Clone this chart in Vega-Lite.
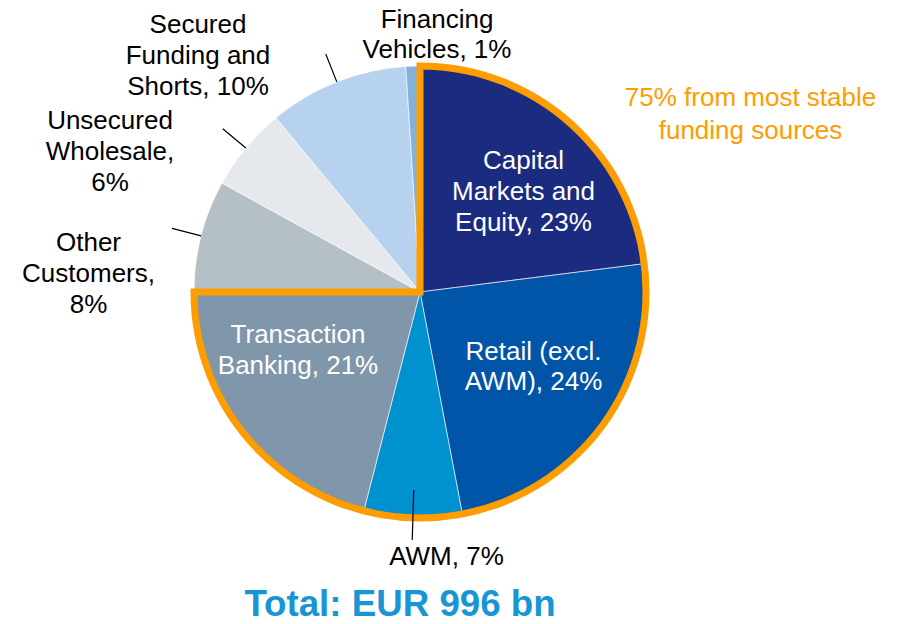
{
  "$schema": "https://vega.github.io/schema/vega-lite/v6.json",
  "width": 840,
  "height": 584,
  "autosize": {"type": "none"},
  "padding": {"left": 0, "top": 0, "right": 69, "bottom": 40},
  "background": "white",
  "config": {"view": {"stroke": null}, "font": "Liberation Sans"},
  "title": {
    "text": "Total: EUR 996 bn",
    "orient": "bottom",
    "anchor": "middle",
    "frame": "group",
    "dx": -20,
    "offset": 3,
    "fontSize": 36.7,
    "fontWeight": "bold",
    "font": "Liberation Sans",
    "color": "#1895d3"
  },
  "data": {
    "values": [
      {"cat": "Capital Markets and Equity", "label": "Capital\nMarkets and\nEquity, 23%", "share": 23, "idx": 1, "grp": "stable"},
      {"cat": "Retail (excl. AWM)", "label": "Retail (excl.\nAWM), 24%", "share": 24, "idx": 2, "grp": "stable"},
      {"cat": "AWM", "label": "AWM, 7%", "share": 7, "idx": 3, "grp": "stable"},
      {"cat": "Transaction Banking", "label": "Transaction\nBanking, 21%", "share": 21, "idx": 4, "grp": "stable"},
      {"cat": "Other Customers", "label": "Other\nCustomers,\n8%", "share": 8, "idx": 5, "grp": "other"},
      {"cat": "Unsecured Wholesale", "label": "Unsecured\nWholesale,\n6%", "share": 6, "idx": 6, "grp": "other"},
      {"cat": "Secured Funding and Shorts", "label": "Secured\nFunding and\nShorts, 10%", "share": 10, "idx": 7, "grp": "other"},
      {"cat": "Financing Vehicles", "label": "Financing\nVehicles, 1%", "share": 1, "idx": 8, "grp": "other"}
    ]
  },
  "transform": [
    {"stack": "share", "groupby": [], "sort": [{"field": "idx", "order": "ascending"}], "as": ["s0", "s1"]}
  ],
  "layer": [
    {
      "mark": {"type": "arc", "outerRadius": 226, "stroke": "#ffffff", "strokeWidth": 0.6},
      "encoding": {
        "theta": {"field": "s0", "type": "quantitative", "scale": {"domain": [0, 100]}},
        "theta2": {"field": "s1"},
        "color": {
          "field": "cat",
          "type": "nominal",
          "legend": null,
          "scale": {
            "domain": ["Capital Markets and Equity", "Retail (excl. AWM)", "AWM", "Transaction Banking", "Other Customers", "Unsecured Wholesale", "Secured Funding and Shorts", "Financing Vehicles"],
            "range": ["#1b2b80", "#0055a8", "#0091cf", "#8096aa", "#b4bfc6", "#e5e8ec", "#b6d2ee", "#82b1dc"]
          }
        }
      }
    },
    {
      "transform": [
        {"aggregate": [{"op": "min", "field": "s0", "as": "g0"}, {"op": "max", "field": "s1", "as": "g1"}], "groupby": ["grp"]},
        {"filter": "datum.grp === 'stable'"}
      ],
      "mark": {"type": "arc", "outerRadius": 226, "fill": "#ffffff", "fillOpacity": 0, "stroke": "#ff9c00", "strokeWidth": 7, "strokeJoin": "miter"},
      "encoding": {
        "theta": {"field": "g0", "type": "quantitative", "scale": {"domain": [0, 100]}},
        "theta2": {"field": "g1"}
      }
    },
    {
      "transform": [{"filter": "datum.cat === 'AWM'"}],
      "mark": {"type": "arc", "innerRadius": 198, "outerRadius": 248, "padAngle": 3.14, "fill": "#ffffff", "fillOpacity": 0, "stroke": "#000000", "strokeWidth": 1.2},
      "encoding": {
        "theta": {"field": "s0", "type": "quantitative", "scale": {"domain": [0, 100]}},
        "theta2": {"field": "s1"}
      }
    },
    {
      "transform": [{"filter": "datum.cat === 'Other Customers' || datum.cat === 'Unsecured Wholesale' || datum.cat === 'Secured Funding and Shorts'"}],
      "mark": {"type": "arc", "innerRadius": 226, "outerRadius": 256, "padAngle": 3.14, "fill": "#ffffff", "fillOpacity": 0, "stroke": "#000000", "strokeWidth": 1.2},
      "encoding": {
        "theta": {"field": "s0", "type": "quantitative", "scale": {"domain": [0, 100]}},
        "theta2": {"field": "s1"}
      }
    },
    {
      "transform": [{"filter": "datum.cat === 'Capital Markets and Equity'"}],
      "mark": {"type": "text", "radius": 131.5, "dx": 103.5, "dy": 0, "fontSize": 26, "lineHeight": 31, "lineBreak": "\n", "align": "center", "baseline": "middle", "color": "#ffffff"},
      "encoding": {
        "theta": {"field": "s0", "type": "quantitative", "scale": {"domain": [0, 100]}},
        "text": {"field": "label", "type": "nominal"}
      }
    },
    {
      "transform": [{"filter": "datum.cat === 'Retail (excl. AWM)'"}],
      "mark": {"type": "text", "radius": 115, "dx": -0.6, "dy": 74.4, "fontSize": 26, "lineHeight": 30, "lineBreak": "\n", "align": "center", "baseline": "middle", "color": "#ffffff"},
      "encoding": {
        "theta": {"field": "s0", "type": "quantitative", "scale": {"domain": [0, 100]}},
        "text": {"field": "label", "type": "nominal"}
      }
    },
    {
      "transform": [{"filter": "datum.cat === 'Transaction Banking'"}],
      "mark": {"type": "text", "radius": 45, "dx": -110.8, "dy": -0.6, "fontSize": 26, "lineHeight": 31, "lineBreak": "\n", "align": "center", "baseline": "middle", "color": "#ffffff"},
      "encoding": {
        "theta": {"field": "s0", "type": "quantitative", "scale": {"domain": [0, 100]}},
        "text": {"field": "label", "type": "nominal"}
      }
    },
    {
      "transform": [{"filter": "datum.cat === 'AWM'"}],
      "mark": {"type": "text", "radius": 270, "dx": -24.1, "dy": -0.2, "fontSize": 26, "lineHeight": 31, "lineBreak": "\n", "align": "center", "baseline": "middle", "color": "#000000"},
      "encoding": {
        "theta": {"field": "s0", "type": "quantitative", "scale": {"domain": [0, 100]}},
        "text": {"field": "label", "type": "nominal"}
      }
    },
    {
      "transform": [{"filter": "datum.cat === 'Financing Vehicles'"}],
      "mark": {"type": "text", "radius": 272.5, "dx": 34.1, "dy": 0, "fontSize": 26, "lineHeight": 30, "lineBreak": "\n", "align": "center", "baseline": "middle", "color": "#000000"},
      "encoding": {
        "theta": {"field": "s0", "type": "quantitative", "scale": {"domain": [0, 100]}},
        "text": {"field": "label", "type": "nominal"}
      }
    },
    {
      "transform": [{"filter": "datum.cat === 'Secured Funding and Shorts'"}],
      "mark": {"type": "text", "radius": 347, "dx": -0.8, "dy": 0.4, "fontSize": 26, "lineHeight": 31, "lineBreak": "\n", "align": "center", "baseline": "middle", "color": "#000000"},
      "encoding": {
        "theta": {"field": "s0", "type": "quantitative", "scale": {"domain": [0, 100]}},
        "text": {"field": "label", "type": "nominal"}
      }
    },
    {
      "transform": [{"filter": "datum.cat === 'Unsecured Wholesale'"}],
      "mark": {"type": "text", "radius": 354, "dx": 0.2, "dy": -0.4, "fontSize": 26, "lineHeight": 31, "lineBreak": "\n", "align": "center", "baseline": "middle", "color": "#000000"},
      "encoding": {
        "theta": {"field": "s0", "type": "quantitative", "scale": {"domain": [0, 100]}},
        "text": {"field": "label", "type": "nominal"}
      }
    },
    {
      "transform": [{"filter": "datum.cat === 'Other Customers'"}],
      "mark": {"type": "text", "radius": 331.5, "dx": 0, "dy": -49, "fontSize": 26, "lineHeight": 31, "lineBreak": "\n", "align": "center", "baseline": "middle", "color": "#000000"},
      "encoding": {
        "theta": {"field": "s0", "type": "quantitative", "scale": {"domain": [0, 100]}},
        "text": {"field": "label", "type": "nominal"}
      }
    },
    {
      "data": {"values": [{"note": "75% from most stable\nfunding sources"}]},
      "mark": {"type": "text", "dx": 330.5, "dy": -194, "fontSize": 26, "lineHeight": 33, "lineBreak": "\n", "align": "center", "baseline": "middle", "color": "#ff9c00"},
      "encoding": {
        "text": {"field": "note", "type": "nominal"}
      }
    }
  ]
}
